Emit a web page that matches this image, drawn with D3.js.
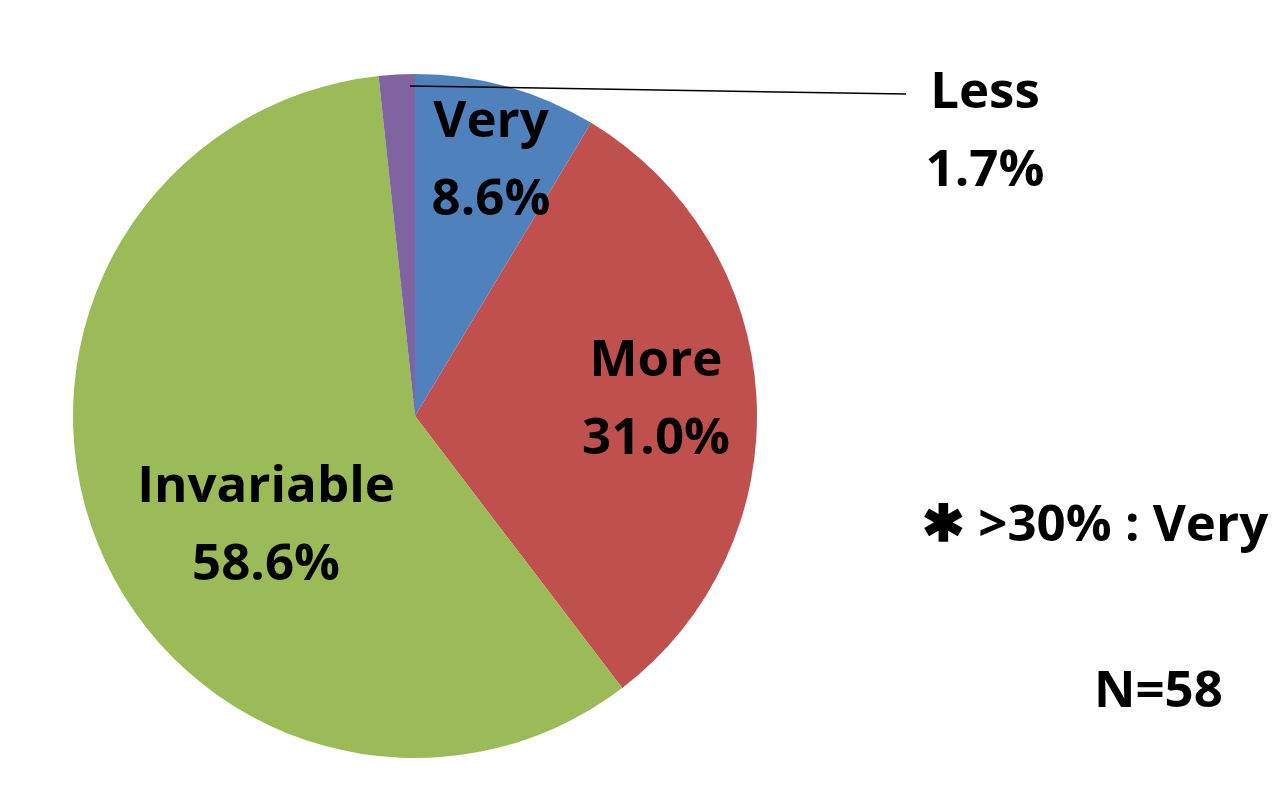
<!DOCTYPE html>
<html>
<head>
<meta charset="utf-8">
<script src="https://cdn.jsdelivr.net/npm/d3@7"></script>
<style>
html,body{margin:0;padding:0;background:#fff;}
svg{display:block;}
text{font-family:"Open Sans", Lato, "Liberation Sans", sans-serif;font-weight:700;fill:#000;}
</style>
</head>
<body>
<svg id="chart" width="1273" height="787"></svg>
<script>
const categories = ["Very", "More", "Invariable", "Less"];
const values = [8.6, 31.0, 58.6, 1.7];
const valueLabels = ["8.6%", "31.0%", "58.6%", "1.7%"];
const colors = ["#4F81BD", "#C0504D", "#9BBB59", "#8064A2"];
const noteText = ["\u2731 >30% : Very", "N=58"];

const W = 1273, H = 787;
const cx = 415, cy = 416, R = 342;
const fontSize = 51, lineGap = 78;

// label anchor positions relative to pie centre (layout only)
const labelOffsets = [[76, -258], [241, -19], [-149, 107], [570, -287]];

const svg = d3.select("#chart");
const g = svg.append("g").attr("transform", `translate(${cx},${cy})`);

const data = categories.map((c, i) => ({cat: c, value: values[i], label: valueLabels[i], color: colors[i]}));
const pie = d3.pie().value(d => d.value).sort(null).startAngle(0).endAngle(2 * Math.PI);
const arc = d3.arc().innerRadius(0).outerRadius(R);
const arcs = pie(data);

g.selectAll("path.slice").data(arcs).enter().append("path")
  .attr("class", "slice")
  .attr("d", arc)
  .attr("fill", d => d.data.color);

// leader line for "Less"
g.append("path")
  .attr("d", d3.line()([[-5, -330], [491, -322]]))
  .attr("stroke", "#000").attr("stroke-width", 1.5).attr("fill", "none");

arcs.forEach((a, i) => {
  const [dx, dy] = labelOffsets[i];
  const t = g.append("text").attr("text-anchor", "middle")
    .attr("font-size", fontSize)
    .attr("transform", `translate(${dx},${dy})`);
  t.append("tspan").attr("x", 0).attr("y", -lineGap / 2 + fontSize * 0.36).text(a.data.cat);
  t.append("tspan").attr("x", 0).attr("y", lineGap / 2 + fontSize * 0.36).text(a.data.label);
});

svg.append("text").attr("x", 922).attr("y", 541).attr("font-size", fontSize).text(noteText[0]);
svg.append("text").attr("x", 1094).attr("y", 707).attr("font-size", fontSize).text(noteText[1]);
</script>
</body>
</html>
